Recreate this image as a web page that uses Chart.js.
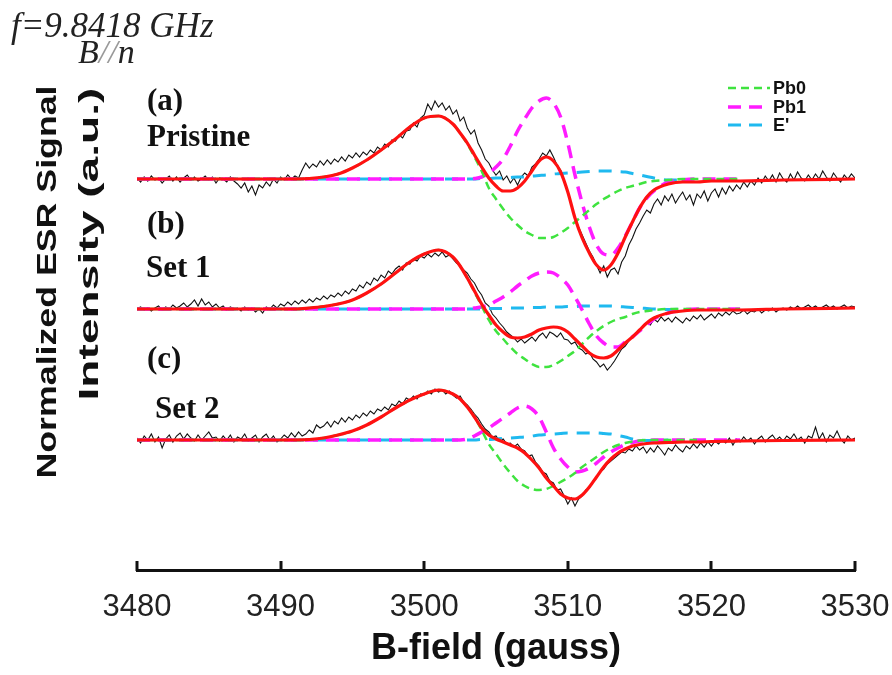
<!DOCTYPE html>
<html>
<head>
<meta charset="utf-8">
<script src="https://cdn.jsdelivr.net/npm/chart.js@4.4.1/dist/chart.umd.min.js"></script>
<style>
  html, body { margin: 0; padding: 0; background: #fff; }
  #wrap { width: 892px; height: 675px; }
</style>
</head>
<body>
<div id="wrap"><canvas id="c" width="892" height="675"></canvas></div>
<script>
// ---------------- data ----------------
const fieldMin = 3480, fieldMax = 3530;
const tickValues = [3480, 3490, 3500, 3510, 3520, 3530];
const sampleStart = 3480, sampleStep = 0.25;   // spacing of the measured traces
const panelLabels = ["(a)", "(b)", "(c)"];
const panelNames = ["Pristine", "Set 1", "Set 2"];
const legendNames = ["Pb0", "Pb1", "E'"];
const panelOffsets = [39.1, 26.1, 13.0];       // vertical stacking offsets (a.u.)

// field positions of the fitted curves (gauss)
const fitField = [3480,3484,3488,3490,3491,3492,3493,3494,3495,3496,3497,3498,3499,3500,3501,
  3502,3502.5,3503,3503.5,3504,3504.5,3505,3505.5,3506,3506.5,3507,3507.5,3508,3508.5,3509,3509.5,
  3510,3510.5,3511,3511.5,3512,3512.5,3513,3513.5,3514,3514.5,3515,3515.5,3516,
  3517,3518,3519,3520,3522,3525,3530];

// ---- (a) Pristine ----
const fitA = [0,0,0,0,0, 0.05,0.2,0.5,1.1,1.9,2.9,4.0,5.2,6.1,6.3,
  5.5,4.6,3.6,2.4,1.2,0.1,-0.7,-1.2,-1.2,-0.9,-0.2,0.8,1.8,2.2,1.8,0.7,
  -1.3,-3.9,-5.9,-7.4,-8.6,-9.1,-8.6,-7.4,-5.8,-4.3,-2.9,-1.8,-1.1,
  -0.5,-0.3,-0.3,-0.2,-0.2,-0.1,0];
const pb0A = [0,0,0,0,0, 0.05,0.2,0.5,1.1,1.9,2.9,4.0,5.2,6.1,6.3,
  5.5,4.6,3.5,2.2,0.8,-0.9,-2.0,-3.0,-3.9,-4.6,-5.2,-5.6,-5.9,-5.9,-5.8,-5.4,
  -4.9,-4.3,-3.7,-3.1,-2.5,-2.0,-1.6,-1.2,-0.9,-0.7,-0.5,-0.3,-0.2,
  -0.1,0,0,0,0,null,null];
const pb1A = [0,0,0,0,0, 0,0,0,0,0,0,0,0,0,0,
  0,0,0,0.05,0.2,0.6,1.2,2.0,3.3,4.8,6.0,7.1,7.8,8.1,7.6,6.2,
  3.6,0.4,-2.4,-4.8,-6.6,-7.5,-7.6,-6.9,-5.7,-4.3,-2.9,-1.9,-1.2,
  -0.3,-0.1,0,0,0,null,null];
const eA = [0,0,0,0,0, 0,0,0,0,0,0,0,0,0,0,
  0,0,0,0,0.05,0.05,0.1,0.1,0.15,0.2,0.2,0.3,0.35,0.4,0.5,0.55,
  0.6,0.65,0.7,0.75,0.8,0.8,0.8,0.75,0.7,0.55,0.4,0.25,0.1,
  -0.1,-0.1,null,null,null,null,null];
const traceA = [
  0.1,-0.3,0.2,-0.2, 0.3,-0.1,0.1,-0.4, 0.0,0.3,-0.2,0.2, -0.3,0.1,0.4,-0.1,
  0.2,-0.2,0.0,0.3, -0.1,0.2,-0.4,0.1, 0.0,-0.3,0.2,-0.2, -0.5,-0.9,-0.4,-1.3,
  -0.7,-1.6,-0.6,-0.9, -0.3,-0.7,0.0,-0.4, 0.2,-0.1,0.4,0.0, 0.3,0.1,0.9,1.6,
  1.1,1.5,1.2,1.8, 1.4,1.9,1.5,2.0, 1.7,2.2,1.8,2.4, 2.1,2.6,2.2,2.7,
  2.4,2.9,2.6,3.2, 2.9,3.5,3.2,3.9, 3.8,4.4,4.1,4.8, 4.9,5.6,5.2,6.1,
  6.4,7.5,6.9,7.8, 7.2,7.6,6.9,7.3, 6.5,6.9,5.8,6.2, 5.1,4.5,4.9,3.6,
  2.9,2.0,1.6,0.9, 0.4,0.8,-0.1,0.3, -0.4,0.1,-0.6,0.2, 0.6,0.3,1.2,1.5,
  2.0,2.6,2.3,2.9, 2.2,1.4,0.9,-0.2, -1.4,-2.6,-3.9,-4.8, -5.6,-6.4,-7.2,-7.8,
  -8.6,-9.4,-8.7,-9.8, -9.1,-8.9,-9.5,-8.3, -7.7,-6.6,-5.9,-5.0, -4.4,-3.7,-3.1,-3.4,
  -2.5,-2.0,-2.6,-1.7, -2.2,-1.5,-2.4,-1.8, -1.3,-2.1,-1.6,-2.6, -1.5,-1.9,-1.2,-2.2,
  -1.4,-1.0,-1.8,-0.9, -1.5,-0.7,-1.2,-0.6, -1.0,-0.3,-0.8,-0.2, -0.6,0.1,-0.4,0.3,
  -0.2,0.4,-0.3,0.6, 0.0,-0.3,0.5,-0.1, 0.7,0.1,-0.2,0.4, -0.1,0.5,0.0,0.8,
  0.2,-0.2,0.6,0.1, -0.3,0.4,0.0,0.5, 0.1];

// ---- (b) Set 1 ----
const fitB = [0,0,0,0,0, 0.1,0.25,0.5,0.9,1.6,2.5,3.6,4.7,5.5,5.9,
  5.2,4.3,3.1,1.8,0.5,-0.6,-1.6,-2.3,-2.8,-2.9,-2.8,-2.5,-2.1,-1.9,-1.8,-1.9,
  -2.3,-3.0,-3.7,-4.4,-4.8,-4.9,-4.7,-4.1,-3.4,-2.8,-2.1,-1.4,-0.9,
  -0.4,-0.2,-0.1,-0.1,-0.1,0,0.1];
const pb0B = [0,0,0,0,0, 0.1,0.25,0.5,0.9,1.6,2.5,3.6,4.7,5.5,5.9,
  5.2,4.3,3.1,1.7,0.3,-1.1,-2.2,-3.0,-3.8,-4.5,-5.0,-5.5,-5.8,-5.8,-5.6,-5.2,
  -4.7,-4.2,-3.5,-2.8,-2.2,-1.7,-1.3,-1.0,-0.8,-0.5,-0.3,-0.2,-0.1,
  0,0,0,0,0,null,null];
const pb1B = [0,0,0,0,0, 0,0,0,0,0,0,0,0,0,0,
  0,0,0,0.1,0.2,0.4,0.8,1.2,1.7,2.3,2.8,3.3,3.6,3.7,3.6,3.1,
  2.4,1.2,-0.1,-1.5,-2.7,-3.4,-3.8,-3.8,-3.3,-2.8,-2.2,-1.6,-1.0,
  -0.4,-0.1,0,0,0,null,null];
const eB = [0,0,0,0,0, 0,0,0,0,0,0,0,0,0,0,
  0,0,0,0,0,0.05,0.05,0.05,0.1,0.1,0.1,0.15,0.15,0.2,0.2,0.2,
  0.25,0.25,0.3,0.3,0.3,0.3,0.3,0.25,0.2,0.15,0.1,0.05,0,
  -0.05,0,null,null,null,null,null];
const traceB = [
  0.0,0.2,-0.1,0.1, -0.2,0.1,0.3,-0.1, 0.2,0.0,0.4,0.1, 0.3,0.6,0.2,0.5,
  0.9,0.3,1.0,0.4, 0.7,0.2,0.5,0.1, 0.3,-0.1,0.2,0.0, 0.1,-0.2,0.2,-0.1,
  0.1,-0.3,0.0,-0.4, 0.2,0.0,0.4,0.1, 0.5,0.3,0.7,0.4, 0.8,0.5,0.9,0.6,
  1.0,0.7,1.1,0.9, 1.3,1.0,1.4,1.2, 1.6,1.3,1.8,1.5, 2.0,1.8,2.4,2.1,
  2.7,2.4,3.1,2.8, 3.4,3.1,3.8,3.5, 4.0,4.3,3.9,4.6, 4.5,5.0,4.8,5.3,
  5.1,5.5,5.2,5.6, 5.3,5.7,5.2,5.4, 5.0,4.6,4.3,3.9, 3.6,3.0,2.6,1.9,
  1.4,0.6,0.3,-0.5, -0.9,-1.4,-1.8,-2.3, -2.6,-2.9,-3.3,-3.0, -3.4,-3.1,-2.8,-3.2,
  -2.7,-2.4,-2.9,-2.3, -2.5,-2.8,-2.4,-3.0, -3.1,-3.5,-3.3,-3.9, -4.1,-4.5,-4.3,-5.0,
  -5.3,-5.8,-5.5,-6.1, -5.7,-5.2,-4.6,-4.0, -3.7,-3.2,-2.8,-2.5, -2.2,-1.8,-1.4,-1.6,
  -1.0,-1.3,-0.8,-1.2, -0.9,-1.3,-0.8,-1.1, -1.4,-0.9,-1.2,-0.7, -1.0,-0.6,-1.1,-0.8,
  -0.5,-0.9,-0.4,-0.7, -0.3,-0.6,-0.2,-0.5, -0.4,-0.1,-0.5,-0.2, -0.3,0.0,-0.4,-0.1,
  -0.2,0.1,-0.3,0.0, 0.1,-0.1,0.2,0.0, 0.3,0.0,0.2,0.4, 0.1,0.3,0.0,0.2,
  0.4,0.1,0.3,0.0, 0.2,0.4,0.1,0.3, 0.2];

// ---- (c) Set 2 ----
const fitC = [0,0,0,0,0, 0.05,0.2,0.5,0.9,1.5,2.3,3.2,4.0,4.6,5.0,
  4.6,4.1,3.3,2.3,1.2,0.5,0.1,-0.2,-0.5,-0.8,-1.3,-2.0,-2.8,-3.8,-4.6,-5.4,
  -5.8,-5.9,-5.5,-4.7,-3.7,-2.7,-1.9,-1.3,-0.9,-0.6,-0.45,-0.35,-0.3,
  -0.25,-0.2,-0.2,-0.15,-0.1,-0.05,0];
const pb0C = [0,0,0,0,0, 0.05,0.2,0.5,0.9,1.5,2.3,3.2,4.0,4.6,5.0,
  4.6,4.1,3.3,2.3,1.0,-0.4,-1.4,-2.4,-3.3,-4.1,-4.6,-4.9,-5.0,-4.9,-4.6,-4.2,
  -3.8,-3.3,-2.7,-2.2,-1.7,-1.2,-0.8,-0.5,-0.3,-0.15,-0.05,0,0,
  0,0,0,null,null,null,null];
const pb1C = [0,0,0,0,0, 0,0,0,0,0,0,0,0,0,0,
  0,0,0.1,0.4,0.8,1.2,1.7,2.2,2.7,3.2,3.4,3.1,2.3,0.8,-0.8,-1.9,
  -2.7,-3.2,-3.1,-2.8,-2.3,-1.7,-1.2,-0.8,-0.45,-0.25,-0.1,-0.05,0,
  0,0,0,0,0,null,null];
const eC = [0,0,0,0,0, 0,0,0,0,0,0,0,0,0,0,
  0,0,0,0,0.05,0.05,0.1,0.15,0.2,0.25,0.3,0.4,0.5,0.55,0.6,0.65,
  0.7,0.7,0.7,0.7,0.7,0.65,0.6,0.45,0.3,0.1,0,-0.05,-0.05,
  0,null,null,null,null,null,null];
const traceC = [
  0.2,-0.3,0.4,0.0, 0.6,-0.2,0.3,-0.8, 0.1,0.5,-0.2,0.4, 0.7,0.1,0.6,0.2,
  -0.1,0.5,0.0,0.4, 0.8,0.2,0.3,-0.1, 0.4,0.0,0.5,-0.2, 0.3,0.1,0.6,-0.1,
  0.2,0.5,-0.2,0.3, 0.6,0.0,0.4,-0.2, 0.1,0.5,0.2,0.7, 0.3,0.8,0.4,0.6,
  1.0,0.7,1.5,1.2, 1.4,1.8,1.3,1.9, 1.6,2.2,1.8,2.3, 2.0,2.5,2.2,2.7,
  2.4,2.9,2.6,3.1, 2.9,3.3,3.0,3.6, 3.4,3.9,3.6,4.2, 4.0,4.4,4.1,4.6,
  4.5,4.9,4.6,5.1, 4.8,5.0,4.6,4.9, 4.5,4.2,4.4,3.8, 3.5,3.1,2.6,2.2,
  1.6,1.1,0.8,0.3, 0.4,-0.1,0.1,-0.4, -0.3,-0.7,-0.4,-0.9, -1.1,-1.6,-1.5,-2.2,
  -2.6,-3.2,-3.4,-4.1, -4.3,-5.0,-4.9,-5.6, -6.4,-5.8,-6.6,-5.9, -5.6,-5.0,-4.8,-4.1,
  -3.8,-3.2,-2.9,-2.4, -2.1,-1.8,-1.5,-1.2, -1.3,-0.9,-1.1,-0.6, -1.0,-0.7,-1.3,-0.8,
  -1.2,-0.6,-1.0,-1.5, -0.8,-1.1,-0.5,-0.9, -1.2,-0.6,-0.9,-0.4, -0.8,-0.3,-0.7,-0.2,
  -0.6,-0.1,-0.4,0.0, -0.3,0.2,-0.5,0.1, -0.2,0.3,-0.1,0.2, -0.4,0.1,0.4,-0.2,
  0.2,0.5,0.0,0.3, -0.1,0.4,0.1,0.6, 0.0,0.3,-0.3,0.4, 0.2,1.3,0.1,0.7,
  -0.2,0.5,0.2,0.9, 0.1,-0.3,0.4,0.0, 0.2];

// ---------------- build ----------------
const COLORS = { fit: '#ff1111', pb0: '#3fe33f', pb1: '#ff1cff', e: '#1fb9ef', trace: '#111111' };

function fitPoints(vals, off) {
  return fitField.map((b, i) => ({ x: b, y: vals[i] === null ? null : vals[i] + off }));
}
function tracePoints(vals, off) {
  return vals.map((v, i) => ({ x: sampleStart + i * sampleStep, y: v + off }));
}

const panels = [
  [fitA, pb0A, pb1A, eA, traceA],
  [fitB, pb0B, pb1B, eB, traceB],
  [fitC, pb0C, pb1C, eC, traceC]
];
const datasets = [];
panels.forEach((p, k) => {
  const off = panelOffsets[k];
  datasets.push({ label: 'fit ' + panelNames[k], data: fitPoints(p[0], off), borderColor: COLORS.fit,
    borderWidth: 3.2, cubicInterpolationMode: 'monotone', order: 0 });
  datasets.push({ label: legendNames[0], data: fitPoints(p[1], off), borderColor: COLORS.pb0,
    borderWidth: 2.5, borderDash: [8, 5], cubicInterpolationMode: 'monotone', order: 1 });
  datasets.push({ label: legendNames[1], data: fitPoints(p[2], off), borderColor: COLORS.pb1,
    borderWidth: 3.5, borderDash: [13, 8], cubicInterpolationMode: 'monotone', order: 2 });
  datasets.push({ label: legendNames[2], data: fitPoints(p[3], off), borderColor: COLORS.e,
    borderWidth: 3, borderDash: [13, 9], cubicInterpolationMode: 'monotone', order: 3 });
  datasets.push({ label: 'data ' + panelNames[k], data: tracePoints(p[4], off), borderColor: COLORS.trace,
    borderWidth: 1.1, tension: 0, order: 4 });
});

// ---------------- decorations ----------------
const decor = {
  id: 'decor',
  afterDraw(chart) {
    const ctx = chart.ctx;
    const xs = chart.scales.x;
    const axisY = chart.chartArea.bottom;
    // inward tick marks on the field axis
    ctx.save();
    ctx.strokeStyle = '#111';
    ctx.lineWidth = 3;
    tickValues.forEach(v => {
      const px = Math.round(xs.getPixelForValue(v));
      ctx.beginPath();
      ctx.moveTo(px, axisY + 1);
      ctx.lineTo(px, axisY - 9);
      ctx.stroke();
    });
    ctx.restore();

    // y-axis title (two lines, rotated)
    ctx.save();
    ctx.fillStyle = '#111';
    ctx.textAlign = 'center';
    ctx.textBaseline = 'middle';
    const yLines = [
      { t: 'Normalized ESR Signal', x: 48, y: 282, len: 393 },
      { t: 'Intensity (a.u.)', x: 90, y: 244, len: 313 }
    ];
    yLines.forEach(L => {
      ctx.save();
      ctx.font = 'bold 28px "Liberation Sans", Arial, sans-serif';
      const w = ctx.measureText(L.t).width;
      ctx.translate(L.x, L.y);
      ctx.rotate(-Math.PI / 2);
      ctx.scale(L.len / w, 1);
      ctx.fillText(L.t, 0, 0);
      ctx.restore();
    });
    ctx.restore();

    // frequency / orientation note
    ctx.save();
    ctx.fillStyle = '#222';
    ctx.textBaseline = 'alphabetic';
    ctx.font = 'italic 35px "Liberation Serif", "Times New Roman", serif';
    ctx.fillText('f=9.8418 GHz', 11, 37);
    ctx.font = 'italic 34px "Liberation Serif", "Times New Roman", serif';
    ctx.fillText('B', 78, 63);
    let bx = 78 + ctx.measureText('B').width;
    ctx.fillStyle = '#999';
    ctx.fillText('//', bx, 63);
    bx += ctx.measureText('//').width;
    ctx.fillStyle = '#222';
    ctx.fillText('n', bx, 63);
    ctx.restore();

    // panel labels
    ctx.save();
    ctx.fillStyle = '#111';
    ctx.font = 'bold 31px "Liberation Serif", "Times New Roman", serif';
    ctx.textBaseline = 'alphabetic';
    const labelPos = [[147, 110], [147, 233], [147, 368]];
    const namePos = [[147, 146], [146, 277], [155, 418]];
    panelLabels.forEach((t, k) => ctx.fillText(t, labelPos[k][0], labelPos[k][1]));
    panelNames.forEach((t, k) => ctx.fillText(t, namePos[k][0], namePos[k][1]));
    ctx.restore();

    // legend
    ctx.save();
    const legColors = [COLORS.pb0, COLORS.pb1, COLORS.e];
    const legDash = [[8, 5], [13, 8], [13, 8]];
    const legWidth = [2.5, 3.5, 3];
    const legY = [88, 107, 125];
    legendNames.forEach((n, k) => {
      ctx.strokeStyle = legColors[k];
      ctx.lineWidth = legWidth[k];
      ctx.setLineDash(legDash[k]);
      ctx.beginPath();
      ctx.moveTo(728, legY[k]);
      ctx.lineTo(770, legY[k]);
      ctx.stroke();
      ctx.setLineDash([]);
      ctx.fillStyle = '#111';
      ctx.font = 'bold 18px "Liberation Sans", Arial, sans-serif';
      ctx.textBaseline = 'middle';
      ctx.fillText(n, 773, legY[k] + 1);
    });
    ctx.restore();
  }
};

new Chart(document.getElementById('c'), {
  type: 'line',
  data: { datasets },
  options: {
    responsive: false,
    animation: false,
    devicePixelRatio: 1,
    spanGaps: false,
    layout: { padding: { left: 137, right: 37, top: 37, bottom: 4 } },
    elements: { point: { radius: 0 }, line: { fill: false } },
    plugins: { legend: { display: false }, tooltip: { enabled: false } },
    scales: {
      x: {
        type: 'linear',
        min: fieldMin, max: fieldMax,
        afterBuildTicks: (s) => { s.ticks = tickValues.map(v => ({ value: v })); },
        afterFit: (s) => { s.height = 101; s.paddingLeft = 0; s.paddingRight = 0; },
        grid: { display: false, drawTicks: false },
        border: { display: true, color: '#111', width: 3 },
        ticks: { padding: 19, color: '#222', maxRotation: 0, callback: (v) => String(v),
          font: { family: '"Liberation Sans", Arial, sans-serif', size: 31 } },
        title: { display: true, text: 'B-field (gauss)', color: '#111', padding: { top: 0, bottom: 0 },
          font: { family: '"Liberation Sans", Arial, sans-serif', size: 36, weight: 'bold' } }
      },
      y: { type: 'linear', display: false, min: 0, max: 53.3 }
    }
  },
  plugins: [decor]
});
</script>
</body>
</html>
